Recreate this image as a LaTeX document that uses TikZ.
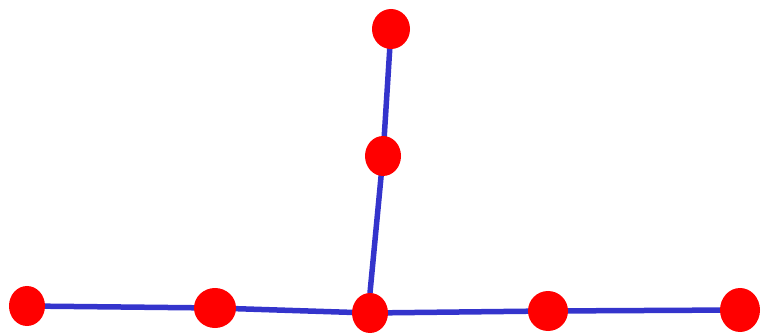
\documentclass[tikz,border=0pt]{standalone}
\usetikzlibrary{backgrounds,shapes.geometric}
\definecolor{edgeblue}{RGB}{52,52,204}
\definecolor{dotred}{RGB}{255,0,0}

\begin{document}
\begin{tikzpicture}[x=1pt,y=-1pt,
    dot/.style={ellipse,fill=dotred,minimum width=36pt,minimum height=40pt,inner sep=0pt},
    edge/.style={draw=edgeblue,line width=5.5pt,line cap=round,line join=round}]
            \useasboundingbox (0,0) rectangle (762,336);
            \node[dot] (b1) at (27,306) {};
            \node[dot,minimum width=42pt] (b2) at (215,308) {};
            \node[dot] (b3) at (370,313) {};
            \node[dot,minimum width=40pt] (b4) at (548,311) {};
            \node[dot,minimum width=40pt,minimum height=44pt] (b5) at (740,310) {};
            \node[dot] (v1) at (383,156) {};
            \node[dot,minimum width=38pt] (v2) at (391,29) {};
            \begin{scope}[on background layer]
                \draw[edge] (b1.center) -- (b2.center) -- (b3.center) -- (b4.center) -- (b5.center);
                \draw[edge] (b3.north) -- (v1.center) -- (v2.center);
            \end{scope}
        \end{tikzpicture}
\end{document}
